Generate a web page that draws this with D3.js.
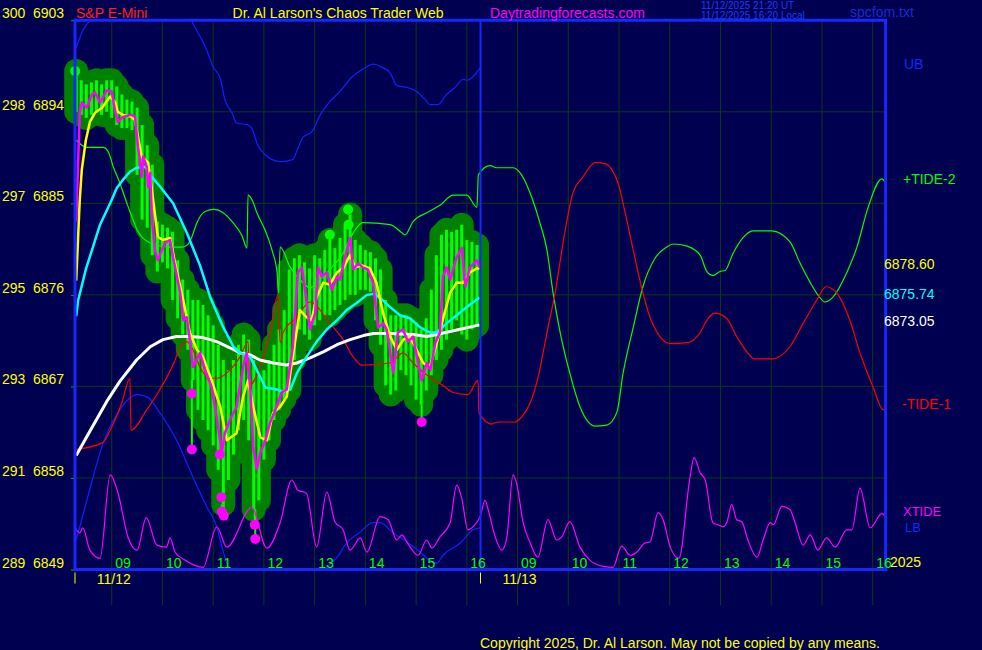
<!DOCTYPE html>
<html><head><meta charset="utf-8">
<script src="https://cdn.jsdelivr.net/npm/d3@7"></script>
<style>html,body{margin:0;padding:0;background:#000050;overflow:hidden}</style>
</head><body>
<svg id="chart" width="982" height="650"></svg>
<script>
// ---------------- DATA ----------------
const leftCodes = ["300","298","297","295","293","291","289"];
const priceTicks = [6903,6894,6885,6876,6867,6858,6849];
const hourTicks = [0,1,2,3,4,5,6,7,8,9,10,11,12,13,14,15];
const hourLabels = ["09","10","11","12","13","14","15","16","09","10","11","12","13","14","15","16"];
const dateHours = [0,8];
const dateLabels = ["11/12","11/13"];
const sessionMarks = [-0.7235,7.27];
const dividerHour = 7.27;

// price bars (6-minute), hours from 09:00 of 11/12
const barStart = -0.7, barStep = 0.1;
const barHigh = [6898.0,6897.1,6896.7,6896.9,6897.1,6896.7,6897.1,6897.1,6896.5,6895.7,
 6895.2,6895.0,6894.4,6892.7,6890.7,6888.8,6883.2,6882.9,6882.6,6882.2,
 6879.4,6877.5,6876.5,6875.5,6875.5,6875.0,6874.0,6873.0,6871.1,6869.6,
 6868.6,6869.6,6871.1,6872.1,6871.6,6869.6,6868.1,6868.6,6869.6,6871.1,
 6872.6,6874.5,6878.5,6879.6,6879.9,6879.2,6878.6,6879.9,6879.6,6880.4,
 6881.4,6880.6,6881.6,6882.9,6883.9,6881.4,6880.9,6880.4,6880.2,6879.6,
 6878.5,6875.5,6874.0,6874.0,6874.0,6874.0,6873.7,6873.3,6872.6,6873.7,
 6876.5,6879.9,6881.9,6882.4,6882.2,6882.4,6882.9,6881.4,6881.2,6880.9];
const barLow = [6894.0,6893.7,6893.4,6893.7,6894.0,6893.7,6894.0,6893.4,6892.7,6892.4,
 6892.4,6892.2,6887.8,6883.4,6882.6,6879.9,6878.3,6879.2,6878.6,6875.5,
 6873.7,6872.1,6870.6,6867.6,6864.7,6863.7,6862.7,6861.2,6858.8,6855.4,
 6857.8,6860.3,6862.7,6863.7,6861.7,6854.9,6855.8,6859.8,6861.7,6863.7,
 6864.7,6865.7,6866.6,6869.6,6872.6,6872.1,6871.6,6873.0,6873.5,6874.0,
 6874.0,6874.5,6875.0,6875.5,6876.0,6876.0,6876.5,6876.5,6876.3,6873.5,
 6871.1,6867.1,6866.2,6866.6,6868.6,6868.1,6867.1,6865.7,6865.2,6866.6,
 6868.1,6869.6,6870.6,6871.6,6872.6,6873.5,6872.1,6871.6,6872.6,6873.0];

const lowDots = [[1.58,6866.3],[1.58,6860.8],[2.13,6860.3],[2.16,6856.1],[2.17,6854.7],[2.21,6854.3],[2.82,6853.4],[2.83,6852.0],[6.11,6863.5]];
const highDots = [[-0.72,6898.0],[4.30,6881.9],[4.66,6884.4],[4.67,6882.9]];

// moving averages [hour, price]
const maFast = [[-0.70,6883.2],[-0.63,6893.9],[-0.59,6894.9],[-0.49,6894.4],[-0.39,6895.7],[-0.33,6895.9],[-0.23,6894.9],[-0.10,6896.1],[0.00,6896.0],[0.07,6894.0],[0.12,6893.0],[0.22,6893.5],[0.39,6893.7],[0.46,6893.5],[0.52,6890.5],[0.56,6889.0],[0.59,6887.6],[0.62,6889.6],[0.69,6888.6],[0.72,6886.6],[0.76,6888.0],[0.79,6883.7],[0.85,6880.4],[0.91,6879.4],[0.99,6880.4],[1.05,6881.1],[1.15,6881.4],[1.21,6879.7],[1.35,6876.2],[1.41,6873.5],[1.48,6873.8],[1.54,6871.6],[1.60,6868.9],[1.74,6870.3],[1.84,6868.6],[1.97,6866.9],[2.07,6864.0],[2.17,6860.5],[2.23,6862.4],[2.33,6863.7],[2.46,6865.0],[2.59,6868.9],[2.66,6870.3],[2.73,6866.9],[2.79,6861.0],[2.86,6858.8],[2.93,6860.5],[3.03,6861.7],[3.12,6863.4],[3.25,6865.0],[3.35,6866.4],[3.45,6866.7],[3.57,6870.9],[3.67,6878.2],[3.75,6878.7],[3.81,6876.5],[3.91,6872.6],[4.01,6874.2],[4.07,6878.7],[4.14,6877.8],[4.24,6878.2],[4.34,6876.5],[4.44,6877.8],[4.50,6877.5],[4.60,6879.7],[4.70,6881.6],[4.76,6878.5],[4.86,6879.1],[4.95,6878.7],[5.05,6878.5],[5.15,6877.2],[5.25,6872.8],[5.35,6873.2],[5.42,6872.6],[5.55,6868.3],[5.64,6872.3],[5.74,6872.6],[5.84,6871.4],[5.94,6871.9],[6.04,6869.3],[6.11,6867.6],[6.21,6869.3],[6.28,6868.6],[6.38,6871.3],[6.47,6872.3],[6.53,6877.8],[6.60,6878.7],[6.67,6877.5],[6.80,6879.7],[6.90,6880.6],[6.97,6876.8],[7.06,6878.7],[7.20,6879.4],[7.25,6878.7]];
const maMid = [[-0.70,6877.4],[-0.66,6881.9],[-0.63,6885.3],[-0.59,6888.3],[-0.51,6891.2],[-0.43,6893.0],[-0.33,6893.9],[-0.19,6894.4],[-0.03,6895.5],[0.07,6894.9],[0.12,6894.0],[0.22,6893.7],[0.39,6893.5],[0.46,6893.2],[0.52,6891.5],[0.59,6889.6],[0.72,6889.0],[0.81,6885.6],[0.91,6881.7],[1.01,6881.4],[1.15,6881.6],[1.25,6879.1],[1.41,6875.5],[1.54,6872.3],[1.68,6870.6],[1.80,6869.9],[1.97,6867.6],[2.14,6865.0],[2.27,6861.7],[2.46,6862.4],[2.59,6866.0],[2.69,6867.6],[2.79,6865.0],[2.93,6862.0],[3.06,6861.7],[3.18,6864.4],[3.32,6865.0],[3.45,6866.0],[3.57,6869.9],[3.71,6874.5],[3.84,6873.8],[3.94,6873.5],[4.04,6875.8],[4.17,6877.2],[4.30,6877.0],[4.44,6878.2],[4.57,6878.7],[4.70,6879.9],[4.80,6878.7],[4.93,6878.9],[5.09,6878.6],[5.22,6877.2],[5.35,6874.2],[5.49,6871.9],[5.62,6870.6],[5.75,6871.6],[5.88,6871.9],[6.01,6870.6],[6.14,6869.3],[6.27,6868.9],[6.41,6871.3],[6.54,6873.8],[6.67,6876.2],[6.80,6877.2],[6.93,6877.2],[7.06,6878.2],[7.20,6878.6],[7.25,6878.60]];
const maSlow = [[-0.70,6873.9],[-0.66,6875.5],[-0.51,6878.5],[-0.37,6880.7],[-0.23,6882.9],[-0.03,6885.0],[0.10,6886.5],[0.22,6887.3],[0.36,6888.1],[0.49,6888.5],[0.66,6888.6],[0.79,6887.6],[0.96,6886.6],[1.21,6885.0],[1.48,6882.1],[1.74,6878.9],[1.94,6875.8],[2.20,6872.8],[2.40,6870.9],[2.53,6870.3],[2.73,6869.9],[2.86,6868.6],[3.03,6866.9],[3.25,6866.7],[3.38,6866.5],[3.52,6866.7],[3.65,6868.3],[3.84,6869.9],[4.04,6871.4],[4.24,6872.6],[4.44,6873.5],[4.63,6874.5],[4.83,6875.2],[5.03,6876.0],[5.19,6876.1],[5.29,6875.7],[5.49,6874.8],[5.68,6874.0],[5.88,6873.7],[6.08,6872.8],[6.27,6872.3],[6.41,6872.3],[6.60,6873.2],[6.80,6874.0],[7.00,6874.8],[7.25,6875.74]];
const maLong = [[-0.70,6860.2],[-0.43,6862.6],[-0.10,6865.5],[0.16,6867.5],[0.49,6869.6],[0.76,6870.9],[1.01,6871.6],[1.28,6871.9],[1.54,6871.9],[1.80,6871.8],[2.07,6871.4],[2.33,6870.8],[2.53,6870.3],[2.73,6870.1],[2.92,6869.6],[3.18,6869.3],[3.45,6869.1],[3.65,6869.3],[3.91,6869.8],[4.17,6870.4],[4.44,6871.1],[4.70,6871.6],[4.96,6872.0],[5.16,6872.2],[5.49,6872.2],[5.95,6872.1],[6.21,6871.9],[6.41,6872.1],[6.67,6872.4],[6.93,6872.7],[7.25,6873.05]];

// tides and bands [hour, price-scale value]
const tide2 = [[-0.70,6891.2],[-0.49,6890.5],[-0.17,6890.5],[-0.07,6890.1],[0.03,6888.6],[0.16,6887.0],[0.30,6885.0],[0.42,6883.4],[0.50,6882.4],[0.76,6881.1],[1.15,6880.7],[1.39,6880.7],[1.49,6880.9],[1.58,6881.7],[1.68,6883.1],[1.84,6884.2],[2.02,6884.4],[2.19,6884.1],[2.39,6883.1],[2.57,6881.8],[2.667,6880.6],[2.687,6885.8],[2.77,6885.3],[2.86,6884.1],[3.02,6882.4],[3.16,6880.4],[3.26,6878.2],[3.29,6876.2],[3.32,6880.7],[3.52,6878.7],[3.71,6877.5],[3.91,6876.7],[4.11,6877.5],[4.30,6878.5],[4.56,6880.1],[4.76,6882.1],[4.95,6883.1],[5.49,6882.9],[5.72,6882.1],[5.78,6881.9],[5.94,6883.2],[6.22,6884.1],[6.47,6884.8],[6.73,6885.8],[7.00,6885.8],[7.20,6884.6],[7.227,6887.8],[7.46,6888.7],[7.59,6888.5],[7.91,6888.5],[8.05,6888.0],[8.30,6885.3],[8.44,6883.1],[8.58,6880.4],[8.70,6876.2],[8.84,6872.3],[9.03,6868.3],[9.23,6865.0],[9.53,6863.1],[9.76,6863.2],[9.96,6864.5],[10.08,6868.3],[10.28,6872.8],[10.47,6876.8],[10.71,6879.6],[10.94,6880.7],[11.07,6881.0],[11.34,6880.8],[11.60,6879.9],[11.73,6878.3],[11.85,6877.9],[11.99,6878.3],[12.09,6878.4],[12.25,6880.1],[12.44,6881.6],[12.64,6882.3],[13.01,6882.3],[13.37,6881.2],[13.57,6879.1],[13.77,6877.2],[13.92,6876.0],[14.06,6875.3],[14.22,6875.8],[14.49,6878.2],[14.69,6880.7],[14.91,6884.6],[15.18,6887.4],[15.25,6887.0]];
const tide1 = [[-0.70,6860.8],[-0.17,6861.5],[-0.03,6862.7],[0.20,6865.4],[0.36,6867.8],[0.38,6862.7],[0.69,6864.7],[0.95,6866.7],[1.25,6869.6],[1.35,6870.9],[1.48,6871.4],[1.60,6870.6],[1.74,6868.9],[1.94,6867.8],[2.07,6867.8],[2.33,6868.6],[2.53,6869.9],[2.69,6871.4],[2.72,6867.1],[2.92,6868.9],[3.12,6872.3],[3.28,6876.0],[3.32,6871.3],[3.38,6872.3],[3.65,6873.8],[3.91,6875.3],[4.30,6873.2],[4.56,6871.6],[4.76,6869.9],[4.93,6869.1],[5.49,6869.3],[5.74,6870.3],[5.94,6869.3],[6.27,6867.9],[6.53,6867.1],[6.73,6866.4],[7.02,6866.2],[7.22,6867.6],[7.24,6864.4],[7.49,6863.3],[7.62,6863.5],[7.95,6863.5],[8.08,6864.0],[8.25,6865.4],[8.40,6867.8],[8.58,6872.3],[8.74,6876.2],[8.94,6882.4],[9.09,6886.0],[9.29,6887.6],[9.53,6889.0],[9.72,6888.9],[9.86,6888.3],[9.98,6887.0],[10.12,6884.1],[10.28,6880.4],[10.47,6876.2],[10.61,6873.8],[10.74,6872.4],[11.01,6871.2],[11.36,6871.3],[11.60,6872.3],[11.73,6873.5],[11.89,6874.2],[12.12,6873.7],[12.32,6871.9],[12.52,6870.4],[12.68,6869.7],[13.01,6869.7],[13.37,6870.9],[13.63,6873.2],[13.90,6875.5],[14.08,6876.8],[14.29,6876.2],[14.55,6873.5],[14.75,6870.3],[15.01,6866.9],[15.21,6864.7],[15.25,6864.9]];
const xtide = [[-0.72,6853.1],[-0.63,6852.6],[-0.57,6853.1],[-0.43,6850.9],[-0.23,6850.1],[-0.03,6858.3],[0.12,6856.6],[0.32,6852.2],[0.50,6850.9],[0.68,6854.1],[0.89,6851.4],[1.08,6851.2],[1.15,6852.1],[1.25,6850.7],[1.45,6849.9],[1.64,6849.4],[1.80,6849.2],[2.07,6853.2],[2.27,6851.2],[2.76,6855.1],[3.06,6851.1],[3.32,6853.6],[3.55,6857.8],[3.67,6856.8],[3.84,6856.5],[4.04,6851.2],[4.24,6856.6],[4.40,6853.7],[4.56,6852.9],[4.70,6850.9],[4.90,6852.1],[5.03,6850.7],[5.29,6854.2],[5.45,6853.9],[5.62,6851.9],[5.72,6852.4],[5.82,6851.7],[6.04,6850.4],[6.21,6851.9],[6.31,6851.1],[6.47,6852.2],[6.67,6853.6],[6.80,6857.3],[6.90,6856.0],[7.02,6852.9],[7.16,6853.4],[7.26,6854.2],[7.36,6855.8],[7.42,6854.9],[7.56,6852.2],[7.69,6850.9],[7.79,6852.2],[7.91,6858.3],[7.98,6857.5],[8.11,6853.6],[8.25,6851.6],[8.40,6850.2],[8.60,6853.9],[8.77,6851.9],[8.87,6852.2],[9.03,6853.7],[9.23,6851.2],[9.43,6849.9],[9.69,6849.3],[9.88,6849.2],[10.05,6851.3],[10.22,6850.4],[10.35,6850.7],[10.51,6851.6],[10.61,6851.7],[10.77,6854.6],[10.87,6853.9],[11.01,6851.2],[11.18,6850.1],[11.40,6858.1],[11.48,6860.0],[11.60,6858.5],[11.70,6857.8],[11.85,6853.6],[11.95,6853.4],[12.05,6853.2],[12.13,6853.7],[12.22,6855.4],[12.32,6853.9],[12.42,6853.7],[12.54,6851.9],[12.72,6850.2],[12.84,6851.9],[12.98,6853.6],[13.04,6853.4],[13.21,6855.2],[13.37,6854.9],[13.47,6853.6],[13.63,6851.4],[13.77,6852.4],[13.92,6850.9],[14.09,6852.1],[14.26,6851.2],[14.49,6852.9],[14.59,6852.9],[14.75,6857.0],[14.95,6853.1],[15.18,6854.5],[15.25,6854.2]];
const upperBand = [[-0.70,6900.3],[-0.57,6902.0],[-0.43,6903.0],[-0.03,6907.9],[0.56,6910.4],[1.15,6907.5],[1.60,6902.7],[1.87,6900.1],[2.00,6898.4],[2.14,6897.3],[2.23,6895.2],[2.37,6893.9],[2.46,6892.9],[2.69,6892.7],[2.76,6892.4],[2.88,6890.7],[3.02,6889.8],[3.32,6889.1],[3.57,6889.3],[3.67,6890.4],[3.77,6891.5],[3.94,6892.0],[4.11,6893.7],[4.30,6895.0],[4.50,6896.0],[4.73,6897.4],[4.99,6898.3],[5.15,6898.7],[5.32,6898.4],[5.49,6897.8],[5.62,6896.6],[5.82,6896.4],[6.01,6896.0],[6.18,6895.2],[6.27,6894.7],[6.43,6894.7],[6.60,6895.7],[6.77,6896.4],[6.93,6897.2],[7.00,6897.1],[7.26,6898.3]];
const lowerBand = [[-0.70,6851.9],[-0.49,6855.8],[-0.17,6861.4],[0.16,6864.7],[0.49,6866.2],[0.72,6865.9],[0.95,6864.4],[1.28,6861.7],[1.60,6858.1],[1.87,6855.2],[2.07,6853.2],[2.19,6850.9],[2.29,6849.3],[2.73,6844.0],[3.32,6841.6],[3.91,6846.0],[4.24,6849.2],[4.44,6850.2],[4.63,6851.6],[4.90,6852.7],[5.15,6853.6],[5.29,6853.6],[5.55,6852.6],[5.82,6851.7],[6.04,6850.9],[6.27,6849.9],[6.41,6849.6],[6.53,6850.4],[6.87,6851.6],[7.12,6852.9],[7.26,6853.1]];

// ---------------- DRAW ----------------
const W = 982, H = 650;
const FONT = "'Liberation Sans', Arial, sans-serif";
const svg = d3.select("#chart");
const plot = {left:75, right:885.6, top:20.25, bottom:569.5};
const x = d3.scaleLinear().domain([-0.7235, 15.2546]).range([plot.left, plot.right]);
const y = d3.scaleLinear().domain([6849, 6903]).range([plot.bottom, plot.top]);

svg.append("rect").attr("width", W).attr("height", H).attr("fill", "#000050");

const defs = svg.append("defs");
defs.append("clipPath").attr("id", "clip").append("rect")
  .attr("x", plot.left).attr("y", plot.top)
  .attr("width", plot.right - plot.left).attr("height", plot.bottom - plot.top);

const GRID = "#0c3a12";
svg.append("g").selectAll("line").data(hourTicks).join("line")
  .attr("x1", d => x(d)).attr("x2", d => x(d))
  .attr("y1", plot.top).attr("y2", 605)
  .attr("stroke", GRID).attr("stroke-width", 1);
svg.append("g").selectAll("line").data(priceTicks).join("line")
  .attr("x1", plot.left).attr("x2", plot.right)
  .attr("y1", d => y(d)).attr("y2", d => y(d))
  .attr("stroke", GRID).attr("stroke-width", 1);

const ya = svg.append("g").attr("transform", `translate(${plot.left},0)`)
  .call(d3.axisLeft(y).tickValues(priceTicks).tickSize(4).tickFormat(""));
ya.select(".domain").remove();
ya.selectAll(".tick line").attr("stroke", "#00b000").attr("stroke-width", 1);

// bars
const bars = barHigh.map((hi, i) => ({h: barStart + i * barStep, hi, lo: barLow[i]}));
svg.append("g").selectAll("line").data(bars).join("line")
  .attr("x1", d => x(d.h)).attr("x2", d => x(d.h))
  .attr("y1", d => y(d.hi)).attr("y2", d => y(d.lo))
  .attr("stroke", "#008200").attr("stroke-width", 24).attr("stroke-linecap", "round");
svg.append("g").selectAll("line").data(bars).join("line")
  .attr("x1", d => x(d.h)).attr("x2", d => x(d.h))
  .attr("y1", d => y(d.hi)).attr("y2", d => y(d.lo))
  .attr("stroke", "#00ff00").attr("stroke-width", 3);

function nearestBar(h){
  const i = Math.max(0, Math.min(bars.length - 1, Math.round((h - barStart) / barStep)));
  return bars[i];
}
svg.append("g").selectAll("line").data(lowDots).join("line")
  .attr("x1", d => x(d[0])).attr("x2", d => x(d[0]))
  .attr("y1", d => y(d[1])).attr("y2", d => y(Math.max(d[1], nearestBar(d[0]).lo)))
  .attr("stroke", "#00ff00").attr("stroke-width", 2);
svg.append("g").selectAll("line").data(highDots).join("line")
  .attr("x1", d => x(d[0])).attr("x2", d => x(d[0]))
  .attr("y1", d => y(d[1])).attr("y2", d => y(Math.min(d[1], nearestBar(d[0]).hi)))
  .attr("stroke", "#00ff00").attr("stroke-width", 2);

// indicator lines
const line = d3.line().x(d => x(d[0])).y(d => y(d[1]));
const smooth = d3.line().x(d => x(d[0])).y(d => y(d[1])).curve(d3.curveMonotoneX);
const clipG = svg.append("g").attr("clip-path", "url(#clip)");
function thin(data, color, w){
  clipG.append("path").datum(data).attr("d", smooth)
    .attr("fill", "none").attr("stroke", color).attr("stroke-width", w)
    .attr("stroke-linejoin", "round");
}
thin(upperBand, "#1020ff", 1.2);
thin(lowerBand, "#1020ff", 1.2);
thin(tide2, "#00ff00", 1.2);
thin(tide1, "#ff0000", 1.2);
thin(xtide, "#ff00ff", 1.2);

function thick(data, color, w){
  svg.append("path").datum(data).attr("d", line)
    .attr("fill", "none").attr("stroke", color).attr("stroke-width", w)
    .attr("stroke-linejoin", "round");
}
thick(maLong, "#ffffff", 3);
thick(maSlow, "#00ffff", 2.5);
thick(maMid, "#ffff00", 2.5);
thick(maFast, "#ff00ff", 2.5);

svg.append("g").selectAll("circle").data(lowDots).join("circle")
  .attr("cx", d => x(d[0])).attr("cy", d => y(d[1])).attr("r", 5).attr("fill", "#ff00ff");
svg.append("g").selectAll("circle").data(highDots).join("circle")
  .attr("cx", d => x(d[0])).attr("cy", d => y(d[1])).attr("r", 5).attr("fill", "#00ff00");

// border and divider
const BLUE = "#1428ff";
svg.append("rect").attr("x", plot.left).attr("y", plot.top)
  .attr("width", plot.right - plot.left).attr("height", plot.bottom - plot.top)
  .attr("fill", "none").attr("stroke", BLUE).attr("stroke-width", 3);
svg.append("line").attr("x1", x(dividerHour)).attr("x2", x(dividerHour))
  .attr("y1", plot.top).attr("y2", plot.bottom).attr("stroke", BLUE).attr("stroke-width", 2);

svg.append("g").selectAll("line").data(sessionMarks).join("line")
  .attr("x1", d => x(d)).attr("x2", d => x(d))
  .attr("y1", plot.bottom + 3).attr("y2", plot.bottom + 14)
  .attr("stroke", "#ffff00").attr("stroke-width", 1);

const xa = svg.append("g").attr("transform", `translate(0,${plot.bottom})`)
  .call(d3.axisBottom(x).tickValues(hourTicks).tickSize(0).tickFormat((d, i) => hourLabels[i]));
xa.select(".domain").remove();
xa.selectAll("text").attr("text-anchor", "start").attr("x", 3).attr("y", -2).attr("dy", 0)
  .attr("fill", "#00ff00").style("font-family", FONT).style("font-size", "14px");

function txt(px, py, s, color, size, anchor){
  return svg.append("text").attr("x", px).attr("y", py).text(s)
    .attr("fill", color).attr("text-anchor", anchor || "start")
    .style("font-family", FONT).style("font-size", (size || 14) + "px");
}

priceTicks.forEach((p, i) => {
  txt(2, y(p) - 2, leftCodes[i], "#ffff00");
  txt(33, y(p) - 2, String(p), "#ffff00");
});

dateHours.forEach((h, i) => txt(x(h) + 2, plot.bottom + 14, dateLabels[i], "#ffff00", 14, "middle"));
txt(890, y(6849) - 3, "2025", "#ffff00");

txt(76, 18, "S&P E-Mini", "#ff2020");
txt(338, 18, "Dr. Al Larson's Chaos Trader Web", "#ffff00", 14, "middle");
txt(490, 18, "Daytradingforecasts.com", "#ff00ff");
txt(701, 9, "11/12/2025 21:20 UT", "#1a3cff", 10);
txt(701, 19, "11/12/2025 16:20 Local", "#1a3cff", 10);
txt(850, 17, "spcfom.txt", "#1c2ad0");

const last = a => a[a.length - 1][1];
txt(904, y(last(upperBand)) + 1, "UB", "#1428ff");
txt(903, y(last(tide2)) + 1, "+TIDE-2", "#00ff00");
txt(884, y(last(maMid)) + 1, last(maMid).toFixed(2), "#ffff00");
txt(884, y(last(maSlow)) + 1, last(maSlow).toFixed(2), "#00ffff");
txt(884, y(last(maLong)) + 1, last(maLong).toFixed(2), "#ffffff");
txt(902, y(last(tide1)) + 1, "-TIDE-1", "#ff0000");
txt(903, y(last(xtide)) - 1, "XTIDE", "#ff00ff", 13);
txt(905, y(last(lowerBand)) + 4, "LB", "#1428ff", 13);

txt(480, 648, "Copyright 2025, Dr. Al Larson. May not be copied by any means.", "#ffff00");
</script>
</body></html>
